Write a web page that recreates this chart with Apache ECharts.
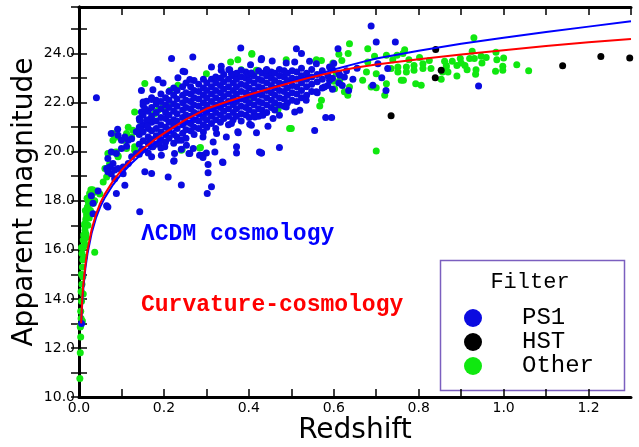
<!DOCTYPE html>
<html>
<head>
<meta charset="utf-8">
<script src="https://cdn.jsdelivr.net/npm/echarts@6/dist/echarts.min.js"></script>
<style>
  html, body { margin: 0; padding: 0; background: #fff; }
  #chart { width: 639px; height: 447px; }
</style>
</head>
<body>
<div id="chart"></div>
<script>
// axis tick labels
const xTickLabels = ['0.0', '0.2', '0.4', '0.6', '0.8', '1.0', '1.2'];
const yTickLabels = ['10.0', '12.0', '14.0', '16.0', '18.0', '20.0', '22.0', '24.0'];

// model curves [redshift, magnitude]
const lcdmCurve = [
  [0.005, 12.9], [0.0075, 13.8], [0.01, 14.4], [0.015, 15.25], [0.02, 15.85], [0.03, 16.7],
  [0.04, 17.3], [0.05, 17.75], [0.06, 18.1], [0.08, 18.65], [0.1, 19.1], [0.125, 19.55],
  [0.15, 19.95], [0.175, 20.3], [0.2, 20.6], [0.25, 21.15], [0.3, 21.6], [0.35, 21.95],
  [0.4, 22.28], [0.45, 22.58], [0.5, 22.86], [0.55, 23.1], [0.6, 23.35], [0.65, 23.58],
  [0.7, 23.8], [0.8, 24.12], [0.9, 24.4], [1.0, 24.65], [1.1, 24.88], [1.2, 25.1], [1.3, 25.32]
];
const curvatureCurve = [
  [0.005, 13.0], [0.0075, 13.95], [0.01, 14.55], [0.015, 15.4], [0.02, 16.0], [0.03, 16.85],
  [0.04, 17.45], [0.05, 17.9], [0.06, 18.25], [0.08, 18.8], [0.1, 19.25], [0.125, 19.7],
  [0.15, 20.1], [0.175, 20.45], [0.2, 20.75], [0.25, 21.3], [0.3, 21.75], [0.35, 22.05],
  [0.4, 22.32], [0.45, 22.58], [0.5, 22.82], [0.55, 23.05], [0.6, 23.25], [0.65, 23.42],
  [0.7, 23.56], [0.8, 23.77], [0.9, 23.96], [1.0, 24.14], [1.1, 24.31], [1.2, 24.46], [1.3, 24.6]
];

// PS1 dense cloud: each row is [redshift, magnitudes...]
const ps1Cloud = [
  [0.142, 19.9, 20.3, 20.7, 21.0, 21.35],
  [0.151, 20.1, 20.45, 20.8, 21.1, 21.5, 21.9],
  [0.163, 19.95, 20.35, 20.6, 20.95, 21.3, 21.65],
  [0.171, 20.2, 20.5, 20.85, 21.2, 21.45, 21.8, 22.2],
  [0.182, 20.3, 20.65, 20.95, 21.25, 21.6, 21.95],
  [0.193, 20.15, 20.5, 20.8, 21.1, 21.4, 21.75, 22.05, 22.35],
  [0.204, 20.4, 20.7, 21.0, 21.35, 21.6, 21.9, 22.2],
  [0.212, 20.55, 20.9, 21.2, 21.5, 21.8, 22.1, 22.45],
  [0.223, 20.35, 20.7, 21.05, 21.3, 21.65, 21.95, 22.3, 22.6],
  [0.231, 20.6, 20.95, 21.25, 21.55, 21.85, 22.15, 22.5],
  [0.244, 20.75, 21.1, 21.4, 21.7, 22.0, 22.3, 22.65],
  [0.252, 20.55, 20.9, 21.2, 21.5, 21.8, 22.1, 22.4, 22.8],
  [0.263, 20.85, 21.15, 21.45, 21.75, 22.05, 22.35, 22.65],
  [0.271, 20.7, 21.0, 21.3, 21.6, 21.9, 22.2, 22.5, 22.9],
  [0.282, 20.95, 21.25, 21.55, 21.85, 22.15, 22.45, 22.75],
  [0.293, 20.8, 21.1, 21.4, 21.7, 22.0, 22.3, 22.6, 22.95],
  [0.301, 21.0, 21.3, 21.6, 21.9, 22.2, 22.5, 22.8],
  [0.312, 21.15, 21.45, 21.75, 22.05, 22.35, 22.65, 22.95],
  [0.322, 20.95, 21.3, 21.6, 21.9, 22.2, 22.5, 22.8, 23.05],
  [0.333, 21.2, 21.5, 21.8, 22.1, 22.4, 22.7, 23.0],
  [0.341, 21.35, 21.65, 21.95, 22.25, 22.55, 22.85, 23.15],
  [0.352, 21.1, 21.45, 21.75, 22.05, 22.35, 22.65, 22.95],
  [0.363, 21.3, 21.6, 21.9, 22.2, 22.5, 22.8, 23.1],
  [0.371, 21.45, 21.75, 22.05, 22.35, 22.65, 22.95, 23.2],
  [0.382, 21.25, 21.55, 21.85, 22.15, 22.45, 22.75, 23.05],
  [0.393, 21.5, 21.8, 22.1, 22.4, 22.7, 23.0, 23.25],
  [0.401, 21.4, 21.7, 22.0, 22.3, 22.6, 22.9, 23.15],
  [0.412, 21.6, 21.9, 22.2, 22.5, 22.8, 23.1],
  [0.423, 21.45, 21.75, 22.05, 22.35, 22.65, 22.95, 23.3],
  [0.431, 21.7, 22.0, 22.3, 22.6, 22.9, 23.2],
  [0.442, 21.6, 21.9, 22.2, 22.5, 22.8, 23.1, 23.35],
  [0.453, 21.8, 22.1, 22.4, 22.7, 23.0, 23.25],
  [0.461, 21.7, 22.0, 22.3, 22.6, 22.9, 23.2],
  [0.472, 21.9, 22.2, 22.5, 22.8, 23.1, 23.35],
  [0.483, 21.85, 22.15, 22.45, 22.75, 23.05, 23.3],
  [0.491, 22.0, 22.3, 22.6, 22.9, 23.2],
  [0.502, 22.1, 22.4, 22.7, 23.0, 23.3],
  [0.513, 22.05, 22.35, 22.65, 22.95, 23.25],
  [0.524, 22.2, 22.5, 22.8, 23.1, 23.4],
  [0.536, 22.3, 22.65, 22.95, 23.2],
  [0.548, 22.45, 22.75, 23.05, 23.35],
  [0.561, 22.4, 22.85, 23.15],
  [0.573, 22.6, 22.95, 23.3],
  [0.586, 22.7, 23.1],
  [0.597, 22.55, 23.0, 23.35],
  [0.612, 22.8, 23.2]
];

// PS1 points outside the dense cloud [redshift, magnitude]
const ps1Scatter = [
  [0.006, 13.0], [0.029, 18.2], [0.033, 17.9], [0.045, 18.4], [0.065, 17.8], [0.088, 18.3],
  [0.108, 18.63], [0.104, 19.1], [0.076, 19.1], [0.084, 18.9], [0.033, 17.47], [0.068, 17.75],
  [0.143, 17.55], [0.041, 22.2],
  [0.218, 23.8], [0.147, 22.5], [0.174, 22.53], [0.186, 22.94], [0.198, 22.8], [0.159, 22.06],
  [0.171, 22.13], [0.182, 22.1], [0.151, 22.03], [0.147, 21.62], [0.155, 21.76], [0.143, 21.28],
  [0.159, 21.28], [0.161, 21.04], [0.147, 20.88], [0.135, 20.81], [0.124, 20.53], [0.116, 20.47],
  [0.108, 20.6], [0.1, 20.47], [0.091, 20.92], [0.076, 20.74], [0.092, 20.67], [0.112, 20.22],
  [0.1, 20.13], [0.088, 19.93], [0.076, 19.99], [0.068, 19.72], [0.08, 19.52], [0.072, 19.38],
  [0.065, 19.32], [0.068, 19.18], [0.084, 19.25], [0.092, 19.32], [0.104, 19.38], [0.116, 19.52],
  [0.124, 19.79], [0.135, 19.93], [0.147, 20.06], [0.171, 19.79], [0.174, 20.2], [0.19, 20.4],
  [0.202, 20.2], [0.194, 19.86], [0.224, 19.63], [0.21, 18.97], [0.225, 19.93], [0.233, 20.47],
  [0.171, 19.11], [0.155, 19.18],
  [0.381, 24.23], [0.268, 23.86], [0.245, 23.28], [0.261, 22.94], [0.233, 23.02], [0.312, 23.45],
  [0.335, 23.32], [0.353, 23.34], [0.359, 23.18], [0.382, 23.32], [0.406, 23.21], [0.429, 23.75],
  [0.441, 23.32], [0.418, 20.77], [0.445, 21.04], [0.375, 20.77], [0.371, 20.2], [0.371, 19.95],
  [0.347, 20.6], [0.339, 19.56], [0.304, 19.48], [0.304, 19.14], [0.312, 18.57], [0.302, 18.3],
  [0.292, 19.86], [0.261, 19.93], [0.241, 20.1], [0.223, 19.61], [0.241, 18.64],
  [0.338, 19.58], [0.429, 19.95], [0.3, 19.95], [0.32, 19.99], [0.259, 19.93],
  [0.404, 23.55], [0.455, 23.7], [0.249, 23.26], [0.335, 23.48], [0.355, 23.34], [0.425, 19.99],
  [0.472, 20.17], [0.402, 21.12], [0.374, 20.81], [0.359, 21.15], [0.324, 20.74], [0.292, 20.6],
  [0.316, 20.4], [0.284, 19.86], [0.269, 20.13], [0.253, 20.26], [0.241, 20.47], [0.292, 19.76],
  [0.688, 25.13], [0.7, 24.47], [0.745, 24.47], [0.692, 22.71], [0.723, 22.5], [0.727, 23.39],
  [0.713, 23.02], [0.704, 23.59], [0.512, 24.2], [0.524, 24.0], [0.61, 24.2], [0.43, 23.8],
  [0.488, 23.62], [0.508, 23.66], [0.543, 23.69], [0.559, 23.59], [0.59, 23.45], [0.614, 23.12],
  [0.625, 23.05], [0.59, 22.91], [0.578, 22.64], [0.559, 22.44], [0.535, 22.1], [0.52, 21.69],
  [0.508, 21.62], [0.488, 21.82], [0.472, 21.49], [0.457, 21.35], [0.433, 21.49], [0.414, 21.42],
  [0.406, 21.08], [0.43, 19.95], [0.555, 20.87], [0.581, 21.39], [0.595, 21.39], [0.941, 22.68],
  [0.62, 22.7], [0.63, 23.3], [0.645, 22.95], [0.6, 23.6], [0.655, 23.4], [0.635, 22.5]
];

// HST points
const hstPoints = [
  [0.735, 21.47], [0.839, 23.02], [0.853, 23.32], [0.84, 24.17], [1.139, 23.5], [1.229, 23.88], [1.297, 23.82]
];

// Other filters
const otherPoints = [
  [0.002, 10.75], [0.003, 11.8], [0.004, 12.45], [0.003, 12.85], [0.005, 13.2], [0.004, 13.5],
  [0.006, 13.9], [0.005, 14.3], [0.007, 14.6], [0.006, 15.0], [0.008, 15.3], [0.009, 15.6],
  [0.007, 15.85], [0.01, 16.1], [0.012, 16.35], [0.011, 16.6], [0.014, 16.8], [0.013, 17.05],
  [0.016, 17.25], [0.018, 17.45], [0.015, 17.6], [0.02, 17.75], [0.022, 17.95], [0.019, 18.1],
  [0.025, 18.3], [0.028, 18.45], [0.032, 18.45], [0.036, 18.35], [0.037, 15.9], [0.024, 17.3],
  [0.027, 17.6], [0.021, 17.0], [0.017, 16.5], [0.009, 14.9], [0.012, 15.7], [0.026, 17.95],
  [0.03, 18.1], [0.034, 17.9], [0.015, 16.2], [0.008, 13.1], [0.004, 12.9], [0.01, 14.2],
  [0.006, 16.1], [0.041, 18.4], [0.049, 18.28], [0.037, 18.0], [0.021, 17.75], [0.018, 17.35],
  [0.014, 16.95], [0.016, 16.66], [0.01, 16.4],
  [0.065, 19.3], [0.072, 19.5], [0.084, 19.98], [0.092, 19.84], [0.08, 20.47], [0.112, 20.74],
  [0.124, 20.6], [0.131, 20.2], [0.065, 18.97], [0.057, 18.77], [0.061, 19.32], [0.068, 19.93],
  [0.104, 20.47], [0.112, 20.13], [0.088, 19.99], [0.092, 19.79], [0.08, 20.74], [0.088, 20.6],
  [0.116, 21.0], [0.127, 20.88], [0.131, 21.62], [0.143, 21.28], [0.171, 21.28], [0.178, 21.55],
  [0.186, 21.69], [0.198, 21.82], [0.214, 21.96], [0.233, 22.71], [0.155, 22.78], [0.214, 22.5],
  [0.241, 20.06], [0.131, 20.06],
  [0.3, 23.18], [0.357, 23.66], [0.374, 23.75], [0.407, 23.97], [0.488, 23.75], [0.382, 23.34],
  [0.418, 23.28], [0.469, 21.76], [0.496, 20.95], [0.402, 22.1], [0.243, 20.09], [0.286, 20.17],
  [0.284, 20.15], [0.468, 21.69], [0.407, 24.0], [0.418, 23.32],
  [0.637, 24.4], [0.68, 24.2], [0.767, 24.16], [0.634, 24.0], [0.612, 23.97], [0.696, 23.89],
  [0.724, 23.93], [0.749, 23.93], [0.763, 24.0], [0.619, 23.72], [0.68, 23.66], [0.739, 23.75],
  [0.777, 23.75], [0.802, 23.84], [0.825, 23.72], [0.81, 23.59], [0.789, 23.52], [0.771, 23.45],
  [0.751, 23.45], [0.735, 23.39], [0.751, 23.25], [0.771, 23.25], [0.789, 23.32], [0.81, 23.39],
  [0.829, 23.39], [0.865, 23.52], [0.677, 23.25], [0.7, 23.18], [0.668, 22.91], [0.688, 22.64],
  [0.7, 22.61], [0.724, 22.77], [0.759, 22.91], [0.764, 22.91], [0.806, 22.71], [0.793, 22.77],
  [0.72, 22.3], [0.633, 22.3], [0.625, 22.44], [0.602, 22.57], [0.637, 22.64], [0.614, 22.91],
  [0.6, 22.87], [0.606, 23.18], [0.571, 22.1], [0.567, 21.86], [0.5, 20.95], [0.7, 20.03],
  [0.559, 23.75], [0.571, 23.72], [0.598, 23.62],
  [0.93, 24.65], [0.926, 24.1], [0.861, 23.69], [0.879, 23.69], [0.898, 23.8], [0.92, 23.8],
  [0.931, 23.8], [0.947, 23.89], [0.959, 23.84], [0.982, 24.06], [1.0, 23.82], [0.984, 23.75],
  [0.998, 23.48], [0.998, 23.32], [0.981, 23.28], [0.949, 23.62], [0.909, 23.52], [0.9, 23.62],
  [0.89, 23.52], [0.914, 23.34], [0.935, 23.34], [0.934, 23.16], [0.89, 23.09], [0.865, 23.45],
  [0.869, 23.25], [0.853, 22.95], [1.031, 23.55], [1.059, 23.3], [0.856, 23.25]
];

const ps1Points = [];
ps1Cloud.forEach(function (row) {
  for (let i = 1; i < row.length; i++) ps1Points.push([row[0], row[i]]);
});
ps1Scatter.forEach(function (p) { ps1Points.push(p); });

const chart = echarts.init(document.getElementById('chart'));

const tickStyle = { inside: true, length: 8, lineStyle: { color: '#000', width: 1.5 } };
const frameLine = { show: true, lineStyle: { color: '#000', width: 3 } };
const labelFont = { fontFamily: 'DejaVu Sans', fontSize: 14, color: '#000' };

chart.setOption({
  backgroundColor: '#fff',
  animation: false,
  // keep the plot box fixed, labels may sit near the edge
  grid: { left: 79, right: 8, top: 7, bottom: 50, outerBoundsMode: 'none', containLabel: false },
  xAxis: [
    {
      type: 'value', min: 0, max: 1.3, interval: 0.1,
      position: 'bottom',
      name: 'Redshift', nameLocation: 'middle', nameGap: 20, nameMoveOverlap: false,
      nameTextStyle: { fontFamily: 'DejaVu Sans', fontSize: 28, color: '#000' },
      axisLine: frameLine, axisTick: tickStyle, splitLine: { show: false },
      axisLabel: Object.assign({
        margin: 4, showMaxLabel: false,
        formatter: function (v) {
          const s = v.toFixed(1);
          return xTickLabels.indexOf(s) >= 0 ? s : '';
        }
      }, labelFont)
    },
    {
      type: 'value', min: 0, max: 1.3, interval: 0.1, position: 'top',
      axisLine: frameLine, axisTick: tickStyle, axisLabel: { show: false }, splitLine: { show: false }
    }
  ],
  yAxis: [
    {
      type: 'value', min: 10, max: 25.9, interval: 1,
      position: 'left',
      name: 'Apparent magnitude', nameLocation: 'middle', nameGap: 40, nameMoveOverlap: false,
      nameTextStyle: { fontFamily: 'DejaVu Sans', fontSize: 28, color: '#000' },
      axisLine: frameLine, axisTick: tickStyle, splitLine: { show: false },
      axisLabel: Object.assign({
        margin: 4, showMaxLabel: false,
        formatter: function (v) {
          const s = v.toFixed(1);
          return yTickLabels.indexOf(s) >= 0 ? s : '';
        }
      }, labelFont)
    },
    {
      type: 'value', min: 10, max: 25.9, interval: 1, position: 'right',
      axisLine: frameLine, axisTick: tickStyle, axisLabel: { show: false }, splitLine: { show: false }
    }
  ],
  legend: {
    orient: 'vertical',
    left: 464, top: 306, padding: 0,
    itemWidth: 18, itemHeight: 18, itemGap: 0,
    icon: 'circle',
    selectedMode: false,
    data: ['PS1', 'HST', 'Other'],
    textStyle: { fontFamily: 'Liberation Mono', fontSize: 24, lineHeight: 24, color: '#000', padding: [0, 0, 0, 35] }
  },
  graphic: [
    {
      type: 'rect', left: 438, top: 258,
      shape: { width: 184, height: 130 },
      style: { fill: 'none', stroke: '#7b5fbf', lineWidth: 1.5 }
    },
    {
      type: 'text', x: 530, y: 282,
      style: { text: 'Filter', fontFamily: 'Liberation Mono', fontSize: 22, fill: '#000', align: 'center', verticalAlign: 'middle' }
    },
    {
      type: 'text', left: 141, top: 223,
      style: { text: 'ΛCDM cosmology', fontFamily: 'Liberation Mono', fontWeight: 'bold', fontSize: 23, fill: '#0000ff' }
    },
    {
      type: 'text', left: 141, top: 294,
      style: { text: 'Curvature-cosmology', fontFamily: 'Liberation Mono', fontWeight: 'bold', fontSize: 23, fill: '#ff0000' }
    }
  ],
  series: [
    {
      name: 'Other', type: 'scatter', data: otherPoints,
      symbolSize: 7, itemStyle: { color: '#10e810', opacity: 1 }, z: 2
    },
    {
      name: 'PS1', type: 'scatter', data: ps1Points,
      symbolSize: 7, itemStyle: { color: '#0b0be0', opacity: 1 }, z: 3
    },
    {
      name: 'HST', type: 'scatter', data: hstPoints,
      symbolSize: 7, itemStyle: { color: '#000', opacity: 1 }, z: 4
    },
    {
      name: 'ΛCDM', type: 'line', data: lcdmCurve, showSymbol: false,
      smooth: false, lineStyle: { color: '#0000ff', width: 2 }, z: 5
    },
    {
      name: 'Curvature', type: 'line', data: curvatureCurve, showSymbol: false,
      smooth: false, lineStyle: { color: '#ff0000', width: 2 }, z: 6
    }
  ]
});
</script>
</body>
</html>
